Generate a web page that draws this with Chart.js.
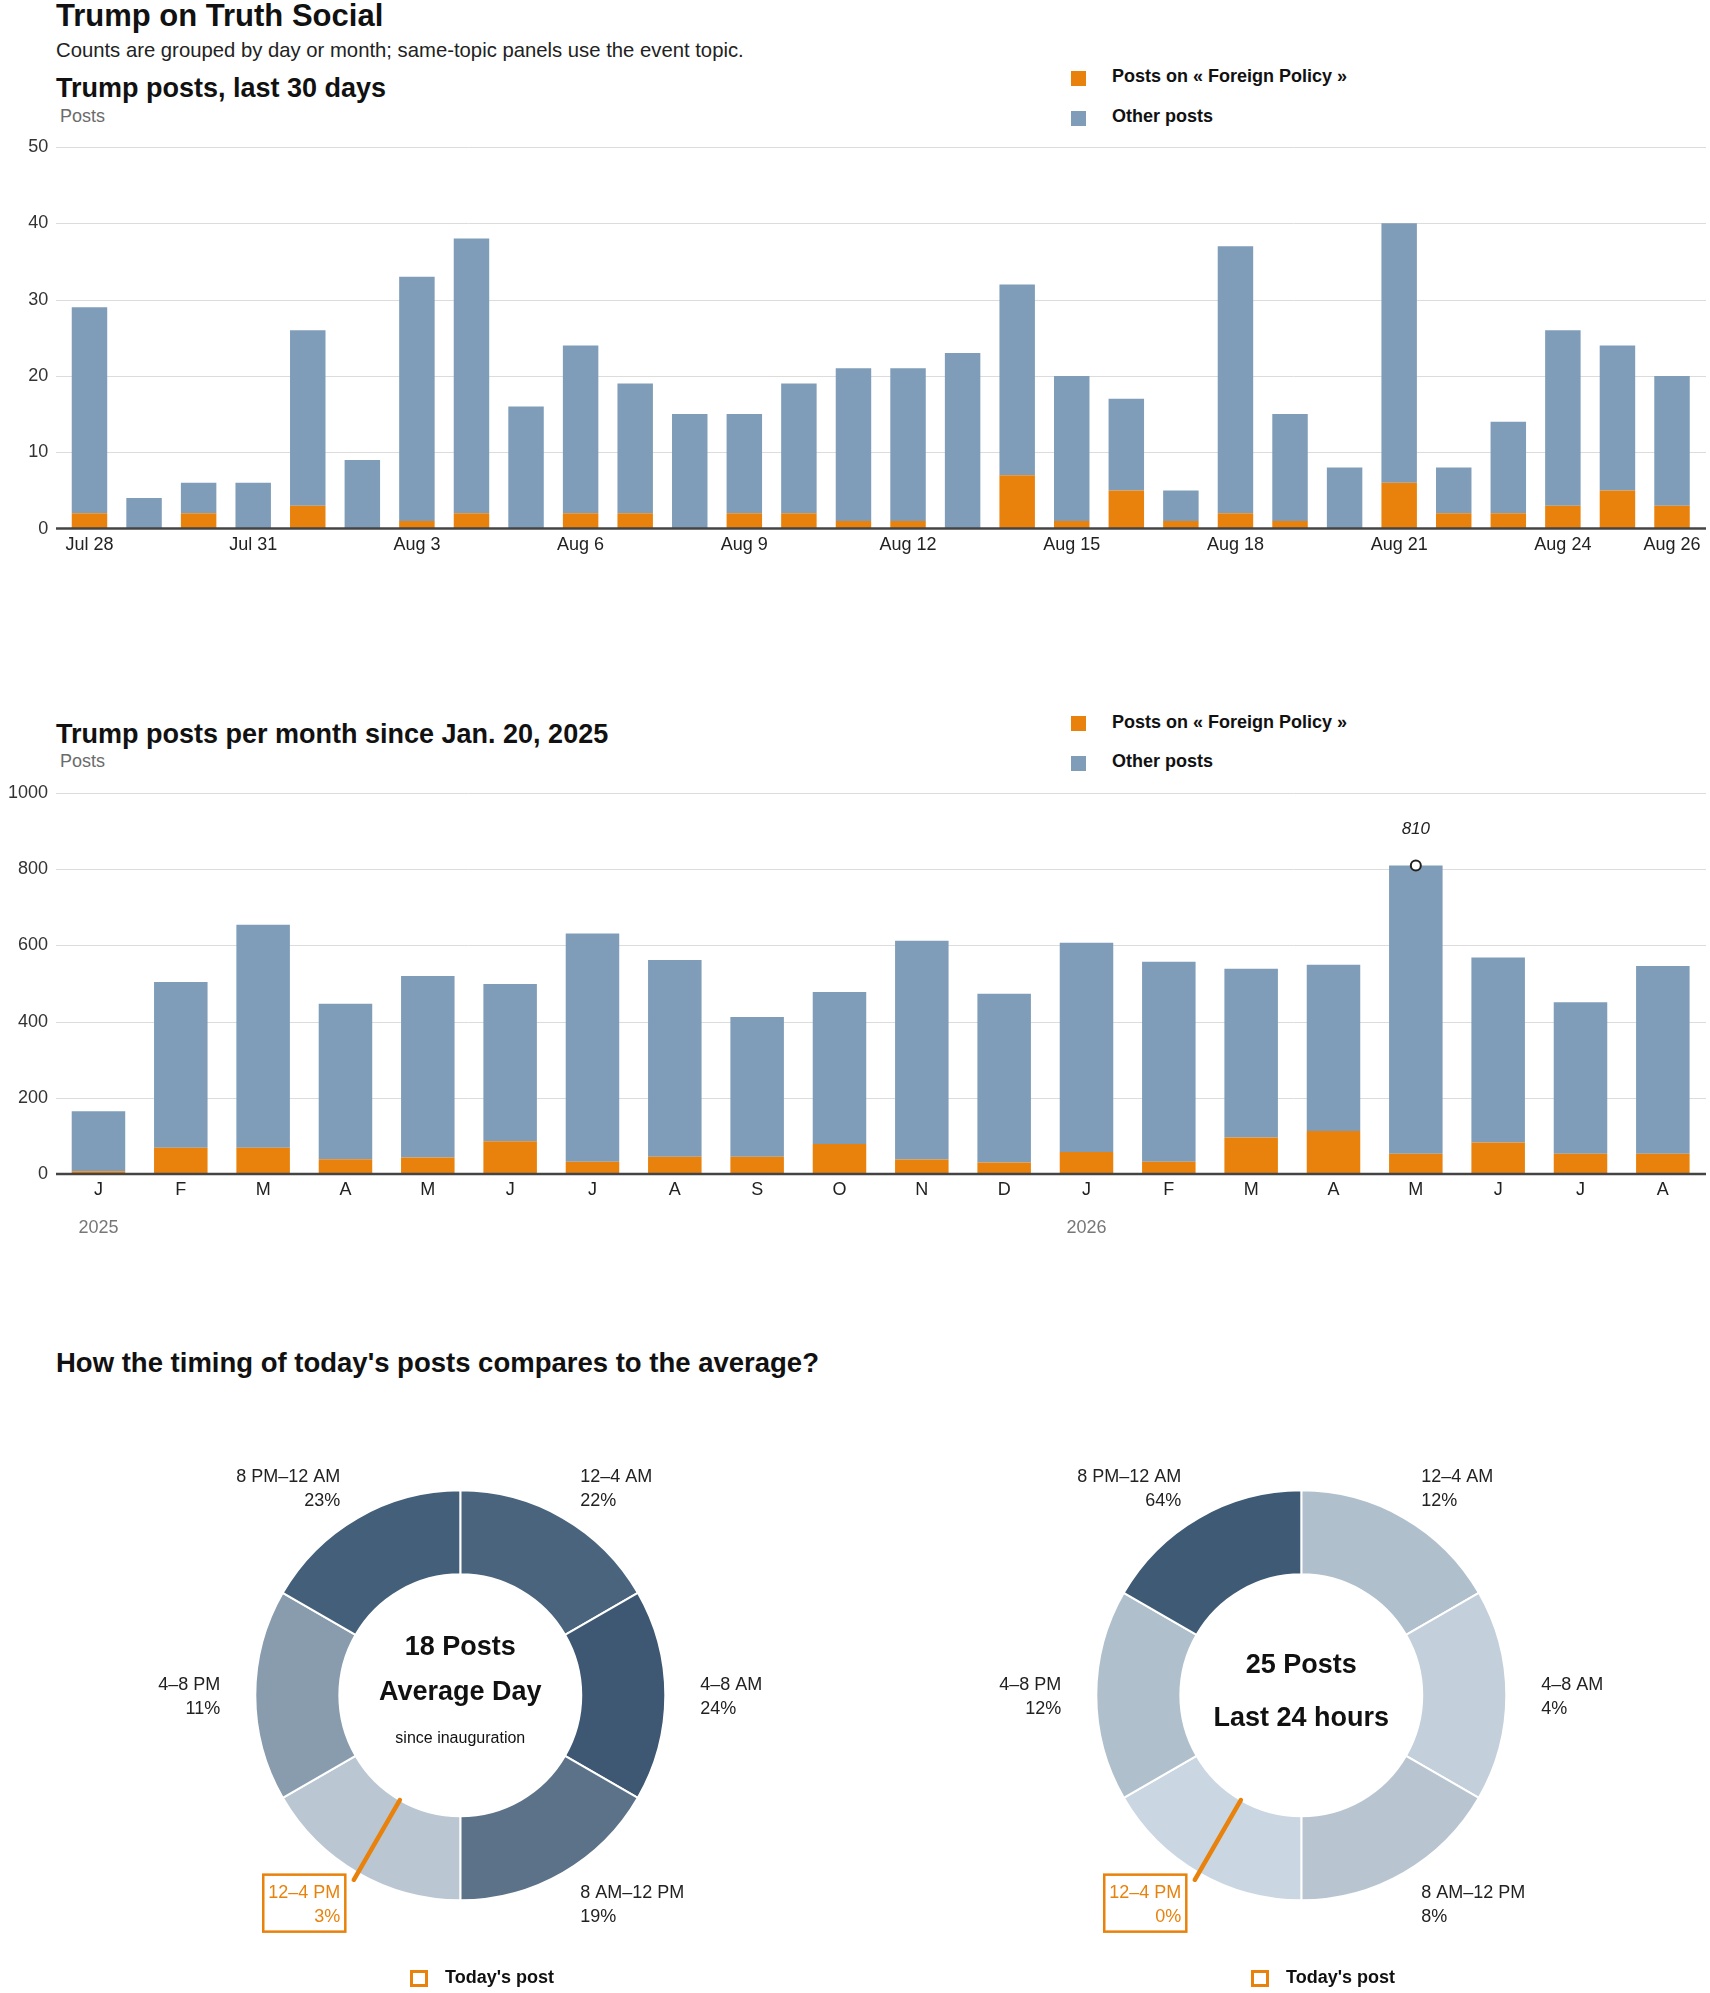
<!DOCTYPE html>
<html>
<head>
<meta charset="utf-8">
<title>Trump on Truth Social</title>
<script src="https://cdn.jsdelivr.net/npm/chart.js@4.4.1/dist/chart.umd.min.js"></script>
<style>
  body { margin: 0; background: #fff; font-family: 'Liberation Sans', Arial, sans-serif; color: #111; }
  #page { position: relative; width: 1710px; height: 1993px; overflow: hidden; }
  .abs { position: absolute; white-space: nowrap; }
  .h1 { font-size: 31px; line-height: 31px; font-weight: bold; color: #111; }
  .h2 { font-size: 27px; line-height: 27px; font-weight: bold; color: #111; }
  .sub { font-size: 20.3px; line-height: 20px; color: #222; }
  .unit { font-size: 18px; line-height: 18px; color: #6b6b6b; }
  .leg { font-size: 18px; line-height: 18px; font-weight: bold; color: #111; }
  .sw { position: absolute; width: 15px; height: 15px; }
  .today { position: absolute; width: 12px; height: 11px; border: 3px solid #e8820c; }
  .wrap { position: absolute; }
</style>
</head>
<body>
<div id="page">
  <div class="abs h1" style="left:56px; top:0px;">Trump on Truth Social</div>
  <div class="abs sub" style="left:56px; top:40px;">Counts are grouped by day or month; same-topic panels use the event topic.</div>

  <div class="abs h2" style="left:56px; top:74.5px;">Trump posts, last 30 days</div>
  <div class="abs unit" style="left:60px; top:107px;">Posts</div>
  <div class="sw" style="left:1071px; top:71px; background:#e8820c;"></div>
  <div class="abs leg" style="left:1112px; top:67px;">Posts on « Foreign Policy »</div>
  <div class="sw" style="left:1071px; top:111px; background:#7f9db8;"></div>
  <div class="abs leg" style="left:1112px; top:107px;">Other posts</div>
  <div class="wrap" style="left:0; top:130px; width:1710px; height:440px;"><canvas id="daily"></canvas></div>

  <div class="abs h2" style="left:56px; top:720.5px;">Trump posts per month since Jan. 20, 2025</div>
  <div class="abs unit" style="left:60px; top:752px;">Posts</div>
  <div class="sw" style="left:1071px; top:716px; background:#e8820c;"></div>
  <div class="abs leg" style="left:1112px; top:713px;">Posts on « Foreign Policy »</div>
  <div class="sw" style="left:1071px; top:756px; background:#7f9db8;"></div>
  <div class="abs leg" style="left:1112px; top:752px;">Other posts</div>
  <div class="wrap" style="left:0; top:760px; width:1710px; height:500px;"><canvas id="monthly"></canvas></div>

  <div class="abs h2" style="left:56px; top:1349px; font-size:27.5px; line-height:27px;">How the timing of today's posts compares to the average?</div>
  <div class="wrap" style="left:0; top:1440px; width:855px; height:553px;"><canvas id="avgDonut"></canvas></div>
  <div class="wrap" style="left:855px; top:1440px; width:855px; height:553px;"><canvas id="dayDonut"></canvas></div>
  <div class="today" style="left:410px; top:1970px;"></div>
  <div class="abs leg" style="left:445px; top:1968px;">Today's post</div>
  <div class="today" style="left:1251px; top:1970px;"></div>
  <div class="abs leg" style="left:1286px; top:1968px;">Today's post</div>
</div>

<script>
// ---- data ----
const dayLabels = ['Jul 28', 'Jul 29', 'Jul 30', 'Jul 31', 'Aug 1', 'Aug 2', 'Aug 3', 'Aug 4', 'Aug 5', 'Aug 6',
    'Aug 7', 'Aug 8', 'Aug 9', 'Aug 10', 'Aug 11', 'Aug 12', 'Aug 13', 'Aug 14', 'Aug 15', 'Aug 16',
    'Aug 17', 'Aug 18', 'Aug 19', 'Aug 20', 'Aug 21', 'Aug 22', 'Aug 23', 'Aug 24', 'Aug 25', 'Aug 26'];
const dayForeign = [2, 0, 2, 0, 3, 0, 1, 2, 0, 2, 2, 0, 2, 2, 1, 1, 0, 7, 1, 5, 1, 2, 1, 0, 6, 2, 2, 3, 5, 3];
const dayOther = [27, 4, 4, 6, 23, 9, 32, 36, 16, 22, 17, 15, 13, 17, 20, 20, 23, 25, 19, 12, 4, 35, 14, 8, 34, 6, 12, 23, 19, 17];

const monthLabels = ['J', 'F', 'M', 'A', 'M', 'J', 'J', 'A', 'S', 'O', 'N', 'D', 'J', 'F', 'M', 'A', 'M', 'J', 'J', 'A'];
const monthForeign = [7, 69, 69, 39, 43, 86, 32, 45, 45, 79, 38, 30, 58, 32, 96, 113, 53, 83, 53, 53];
const monthOther = [158, 435, 585, 408, 477, 413, 599, 517, 367, 399, 574, 443, 549, 525, 443, 436, 757, 485, 398, 493];
const yearLabels = ['2025', '2026'];
const yearStartIdx = [0, 12];
const peakIdx = 16;

const timeSlots = ['12–4 AM', '4–8 AM', '8 AM–12 PM', '12–4 PM', '4–8 PM', '8 PM–12 AM'];
const slotWeights = [1, 1, 1, 1, 1, 1];
const avgShares = [22, 24, 19, 3, 11, 23];
const lastDayShares = [12, 4, 8, 0, 12, 64];
const avgPostsPerDay = 18;
const lastDayPosts = 25;
const todaySlot = 3;

// ---- styles ----
const FONT = "'Liberation Sans', Arial, sans-serif";
const ORANGE = '#e8820c';
const BLUE = '#7f9db8';
const avgColors = ['#4a647e', '#3e5873', '#5b7289', '#bac7d3', '#889cad', '#445f79'];
const dayColors = ['#b0bfcc', '#c3cfdb', '#b8c5d1', '#cad6e1', '#b0bfcc', '#3f5a75'];

// gridlines run a bit wider than the bar area, like the original
const extGrid = {
    id: 'extGrid',
    beforeDatasetsDraw(chart) {
        const y = chart.scales.y, ctx = chart.ctx;
        ctx.save();
        ctx.strokeStyle = '#dcdcdc';
        ctx.lineWidth = 1;
        y.ticks.forEach(t => {
            if (t.value === 0) return;
            const py = Math.round(y.getPixelForValue(t.value)) + 0.5;
            ctx.beginPath(); ctx.moveTo(56, py); ctx.lineTo(1706, py); ctx.stroke();
        });
        ctx.restore();
    },
    afterDatasetsDraw(chart) {
        const y = chart.scales.y, ctx = chart.ctx;
        const py = y.getPixelForValue(0);
        ctx.save();
        ctx.strokeStyle = '#444';
        ctx.lineWidth = 2.5;
        ctx.beginPath(); ctx.moveTo(56, py); ctx.lineTo(1706, py); ctx.stroke();
        ctx.restore();
    }
};

function barChart(id, labels, foreign, other, yMax, yStep, o) {
    return new Chart(document.getElementById(id), {
        type: 'bar',
        data: {
            labels: labels,
            datasets: [
                { label: 'Posts on « Foreign Policy »', data: foreign, backgroundColor: ORANGE, barPercentage: 0.65, categoryPercentage: 1 },
                { label: 'Other posts', data: other, backgroundColor: BLUE, barPercentage: 0.65, categoryPercentage: 1 }
            ]
        },
        options: {
            responsive: true,
            maintainAspectRatio: false,
            animation: false,
            layout: { padding: { top: o.top, right: o.right, left: 0, bottom: 0 } },
            plugins: { legend: { display: false }, tooltip: { enabled: false } },
            scales: {
                x: {
                    stacked: true,
                    grid: { display: false, drawTicks: false },
                    border: { display: false },
                    ticks: {
                        autoSkip: false, maxRotation: 0, padding: o.xPad, color: '#222',
                        font: { size: 18, family: FONT },
                        callback: o.xTick
                    },
                    afterFit: s => { s.height = o.xHeight; s.paddingLeft = 0; s.paddingRight = 0; }
                },
                y: {
                    stacked: true, min: 0, max: yMax,
                    grid: { display: false, drawTicks: false },
                    border: { display: false },
                    ticks: {
                        stepSize: yStep, padding: o.yPad, color: '#333', font: { size: 18, family: FONT },
                        callback: v => String(v)
                    },
                    afterFit: s => { s.width = o.yWidth; s.paddingTop = 0; s.paddingBottom = 0; }
                }
            }
        },
        plugins: [extGrid].concat(o.plugins || [])
    });
}

// daily chart: label every third day plus the last one
barChart('daily', dayLabels, dayForeign, dayOther, 50, 10, {
    top: 17, right: 10.7, xHeight: 41.4, yWidth: 62.2, yPad: 14, xPad: 6,
    xTick: function (value, index) {
        return (index % 3 === 0 || index === dayLabels.length - 1) ? this.getLabelForValue(value) : '';
    }
});

const monthExtras = {
    id: 'monthExtras',
    afterDatasetsDraw(chart) {
        const x = chart.scales.x, y = chart.scales.y, ctx = chart.ctx;
        ctx.save();
        // year marks under the first month of each year
        ctx.fillStyle = '#777';
        ctx.font = '18px ' + FONT;
        ctx.textAlign = 'center';
        ctx.textBaseline = 'middle';
        yearLabels.forEach((yr, i) => {
            ctx.fillText(yr, x.getPixelForValue(yearStartIdx[i]), chart.chartArea.bottom + 54);
        });
        // peak month annotation
        const total = monthForeign[peakIdx] + monthOther[peakIdx];
        const px = x.getPixelForValue(peakIdx), py = y.getPixelForValue(total);
        ctx.fillStyle = '#222';
        ctx.font = 'italic 17px ' + FONT;
        ctx.fillText(String(total), px, py - 36);
        ctx.beginPath();
        ctx.arc(px, py, 5, 0, Math.PI * 2);
        ctx.fillStyle = '#fff';
        ctx.fill();
        ctx.lineWidth = 2;
        ctx.strokeStyle = '#222';
        ctx.stroke();
        ctx.restore();
    }
};

barChart('monthly', monthLabels, monthForeign, monthOther, 1000, 200, {
    top: 33, right: 6, xHeight: 86, yWidth: 57.3, yPad: 9.3, xPad: 5.5,
    xTick: function (value) { return this.getLabelForValue(value); },
    plugins: [monthExtras]
});

// ---- donuts ----
function donut(id, shares, colors, centerLines, pad) {
    const slotLabels = {
        id: 'slotLabels',
        afterDraw(chart) {
            const ctx = chart.ctx;
            const arcs = chart.getDatasetMeta(0).data;
            ctx.save();
            arcs.forEach((arc, i) => {
                const mid = (arc.startAngle + arc.endAngle) / 2;
                const cos = Math.cos(mid), sin = Math.sin(mid);
                const r = arc.outerRadius + 35;
                const lx = arc.x + r * cos, ly = arc.y + r * sin;
                const hot = i === todaySlot;
                if (hot) {
                    ctx.strokeStyle = ORANGE;
                    ctx.lineWidth = 4.5;
                    ctx.lineCap = 'round';
                    ctx.beginPath();
                    ctx.moveTo(arc.x + arc.innerRadius * cos, arc.y + arc.innerRadius * sin);
                    ctx.lineTo(arc.x + (arc.outerRadius + 8) * cos, arc.y + (arc.outerRadius + 8) * sin);
                    ctx.stroke();
                }
                ctx.font = '18px ' + FONT;
                ctx.textAlign = cos > 0 ? 'left' : 'right';
                ctx.textBaseline = 'middle';
                ctx.fillStyle = hot ? ORANGE : '#222';
                ctx.fillText(timeSlots[i], lx, ly - 10.5);
                ctx.fillText(shares[i] + '%', lx, ly + 14);
                if (hot) {
                    const w = Math.max(ctx.measureText(timeSlots[i]).width, ctx.measureText(shares[i] + '%').width);
                    const left = cos > 0 ? lx - 5 : lx - w - 5;
                    ctx.lineWidth = 2.5;
                    ctx.lineCap = 'butt';
                    ctx.strokeRect(left, ly - 28.5, w + 10, 57);
                }
            });
            // centre text
            const cx = arcs[0].x, cy = arcs[0].y;
            ctx.textAlign = 'center';
            ctx.textBaseline = 'middle';
            ctx.fillStyle = '#111';
            centerLines.forEach(l => {
                ctx.font = l.font + ' ' + FONT;
                ctx.fillText(l.text, cx, cy + l.dy);
            });
            ctx.restore();
        }
    };
    return new Chart(document.getElementById(id), {
        type: 'doughnut',
        data: {
            labels: timeSlots,
            datasets: [{ data: slotWeights, backgroundColor: colors, borderColor: '#fff', borderWidth: 2 }]
        },
        options: {
            responsive: true,
            maintainAspectRatio: false,
            animation: false,
            cutout: '59%',
            layout: { padding: pad },
            plugins: { legend: { display: false }, tooltip: { enabled: false } }
        },
        plugins: [slotLabels]
    });
}

donut('avgDonut', avgShares, avgColors, [
    { text: avgPostsPerDay + ' Posts', font: 'bold 27px', dy: -48 },
    { text: 'Average Day', font: 'bold 27px', dy: -3 },
    { text: 'since inauguration', font: '16px', dy: 43.5 }
], { left: 254.3, right: 188.7, top: 49.3, bottom: 91.7 });

donut('dayDonut', lastDayShares, dayColors, [
    { text: lastDayPosts + ' Posts', font: 'bold 27px', dy: -30 },
    { text: 'Last 24 hours', font: 'bold 27px', dy: 23.5 }
], { left: 240.3, right: 202.7, top: 49.3, bottom: 91.7 });
</script>
</body>
</html>
